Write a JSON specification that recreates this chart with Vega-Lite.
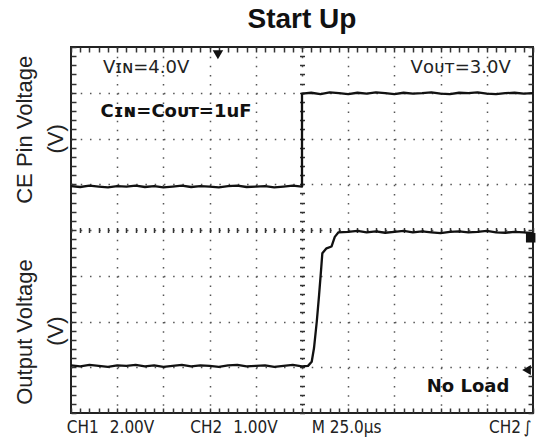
{
  "$schema": "https://vega.github.io/schema/vega-lite/v6.json",
  "width": 462,
  "height": 366,
  "autosize": {"type": "none"},
  "padding": {"left": 71, "top": 47, "right": 10, "bottom": 26},
  "background": "white",
  "title": {"text": "Start Up", "font": "Liberation Sans", "fontSize": 28, "fontWeight": "bold", "color": "#111", "anchor": "middle", "frame": "group", "offset": 12},
  "config": {"view": {"stroke": "#222", "strokeWidth": 2}},
  "datasets": {
    "traces": [
      {"ch":"CE","i":0,"t":0,"v":4.96},{"ch":"CE","i":1,"t":0.2,"v":4.94},{"ch":"CE","i":2,"t":0.4,"v":4.97},{"ch":"CE","i":3,"t":0.6,"v":4.95},{"ch":"CE","i":4,"t":0.8,"v":4.93},{"ch":"CE","i":5,"t":1.0,"v":4.96},{"ch":"CE","i":6,"t":1.2,"v":4.95},{"ch":"CE","i":7,"t":1.4,"v":4.97},{"ch":"CE","i":8,"t":1.6,"v":4.94},{"ch":"CE","i":9,"t":1.8,"v":4.96},{"ch":"CE","i":10,"t":2.0,"v":4.93},{"ch":"CE","i":11,"t":2.2,"v":4.95},{"ch":"CE","i":12,"t":2.4,"v":4.97},{"ch":"CE","i":13,"t":2.6,"v":4.94},{"ch":"CE","i":14,"t":2.8,"v":4.96},{"ch":"CE","i":15,"t":3.0,"v":4.95},{"ch":"CE","i":16,"t":3.2,"v":4.93},{"ch":"CE","i":17,"t":3.4,"v":4.96},{"ch":"CE","i":18,"t":3.6,"v":4.97},{"ch":"CE","i":19,"t":3.8,"v":4.94},{"ch":"CE","i":20,"t":4.0,"v":4.95},{"ch":"CE","i":21,"t":4.2,"v":4.96},{"ch":"CE","i":22,"t":4.4,"v":4.93},{"ch":"CE","i":23,"t":4.6,"v":4.95},{"ch":"CE","i":24,"t":4.8,"v":4.97},{"ch":"CE","i":25,"t":5.0,"v":4.95},
      {"ch":"CE","i":26,"t":5.0,"v":6.98},{"ch":"CE","i":27,"t":5.2,"v":7.0},{"ch":"CE","i":28,"t":5.4,"v":6.97},{"ch":"CE","i":29,"t":5.6,"v":7.01},{"ch":"CE","i":30,"t":5.8,"v":6.99},{"ch":"CE","i":31,"t":6.0,"v":6.97},{"ch":"CE","i":32,"t":6.2,"v":7.0},{"ch":"CE","i":33,"t":6.4,"v":6.98},{"ch":"CE","i":34,"t":6.6,"v":7.01},{"ch":"CE","i":35,"t":6.8,"v":6.99},{"ch":"CE","i":36,"t":7.0,"v":6.97},{"ch":"CE","i":37,"t":7.2,"v":7.0},{"ch":"CE","i":38,"t":7.4,"v":6.98},{"ch":"CE","i":39,"t":7.6,"v":6.99},{"ch":"CE","i":40,"t":7.8,"v":7.01},{"ch":"CE","i":41,"t":8.0,"v":6.98},{"ch":"CE","i":42,"t":8.2,"v":6.97},{"ch":"CE","i":43,"t":8.4,"v":7.0},{"ch":"CE","i":44,"t":8.6,"v":6.99},{"ch":"CE","i":45,"t":8.8,"v":7.01},{"ch":"CE","i":46,"t":9.0,"v":6.98},{"ch":"CE","i":47,"t":9.2,"v":6.97},{"ch":"CE","i":48,"t":9.4,"v":6.99},{"ch":"CE","i":49,"t":9.6,"v":7.0},{"ch":"CE","i":50,"t":9.8,"v":6.98},{"ch":"CE","i":51,"t":10.0,"v":6.99},
      {"ch":"OUT","i":0,"t":0,"v":1.04},{"ch":"OUT","i":1,"t":0.2,"v":1.02},{"ch":"OUT","i":2,"t":0.4,"v":1.05},{"ch":"OUT","i":3,"t":0.6,"v":1.03},{"ch":"OUT","i":4,"t":0.8,"v":1.01},{"ch":"OUT","i":5,"t":1.0,"v":1.04},{"ch":"OUT","i":6,"t":1.2,"v":1.03},{"ch":"OUT","i":7,"t":1.4,"v":1.05},{"ch":"OUT","i":8,"t":1.6,"v":1.02},{"ch":"OUT","i":9,"t":1.8,"v":1.04},{"ch":"OUT","i":10,"t":2.0,"v":1.01},{"ch":"OUT","i":11,"t":2.2,"v":1.03},{"ch":"OUT","i":12,"t":2.4,"v":1.05},{"ch":"OUT","i":13,"t":2.6,"v":1.02},{"ch":"OUT","i":14,"t":2.8,"v":1.04},{"ch":"OUT","i":15,"t":3.0,"v":1.03},{"ch":"OUT","i":16,"t":3.2,"v":1.01},{"ch":"OUT","i":17,"t":3.4,"v":1.04},{"ch":"OUT","i":18,"t":3.6,"v":1.05},{"ch":"OUT","i":19,"t":3.8,"v":1.02},{"ch":"OUT","i":20,"t":4.0,"v":1.03},{"ch":"OUT","i":21,"t":4.2,"v":1.04},{"ch":"OUT","i":22,"t":4.4,"v":1.01},{"ch":"OUT","i":23,"t":4.6,"v":1.03},{"ch":"OUT","i":24,"t":4.8,"v":1.05},{"ch":"OUT","i":25,"t":5.0,"v":1.02},
      {"ch":"OUT","i":26,"t":5.13,"v":1.03},{"ch":"OUT","i":27,"t":5.21,"v":1.12},{"ch":"OUT","i":28,"t":5.26,"v":1.42},{"ch":"OUT","i":29,"t":5.32,"v":2.0},{"ch":"OUT","i":30,"t":5.37,"v":2.58},{"ch":"OUT","i":31,"t":5.41,"v":3.09},{"ch":"OUT","i":32,"t":5.44,"v":3.49},{"ch":"OUT","i":33,"t":5.53,"v":3.6},{"ch":"OUT","i":34,"t":5.64,"v":3.64},{"ch":"OUT","i":35,"t":5.71,"v":3.85},{"ch":"OUT","i":36,"t":5.79,"v":3.95},
      {"ch":"OUT","i":37,"t":6.0,"v":3.96},{"ch":"OUT","i":38,"t":6.2,"v":3.98},{"ch":"OUT","i":39,"t":6.4,"v":3.95},{"ch":"OUT","i":40,"t":6.6,"v":3.97},{"ch":"OUT","i":41,"t":6.8,"v":3.94},{"ch":"OUT","i":42,"t":7.0,"v":3.96},{"ch":"OUT","i":43,"t":7.2,"v":3.98},{"ch":"OUT","i":44,"t":7.4,"v":3.95},{"ch":"OUT","i":45,"t":7.6,"v":3.97},{"ch":"OUT","i":46,"t":7.8,"v":3.95},{"ch":"OUT","i":47,"t":8.0,"v":3.93},{"ch":"OUT","i":48,"t":8.2,"v":3.96},{"ch":"OUT","i":49,"t":8.4,"v":3.97},{"ch":"OUT","i":50,"t":8.6,"v":3.95},{"ch":"OUT","i":51,"t":8.8,"v":3.96},{"ch":"OUT","i":52,"t":9.0,"v":3.98},{"ch":"OUT","i":53,"t":9.2,"v":3.95},{"ch":"OUT","i":54,"t":9.4,"v":3.94},{"ch":"OUT","i":55,"t":9.6,"v":3.96},{"ch":"OUT","i":56,"t":9.8,"v":3.95},{"ch":"OUT","i":57,"t":10.0,"v":3.93}
    ],
    "markers": [
      {"kind":"trig","t":3.18,"v":7.83},
      {"kind":"gnd","t":9.86,"v":0.94},
      {"kind":"lvl","t":9.95,"v":3.83}
    ],
    "notes": [
      {"label":"Vɪɴ=4.0V","t":0.69,"v":7.54},
      {"label":"Vᴏᴜᴛ=3.0V","t":7.35,"v":7.55}
    ],
    "boldnotes": [
      {"label":"Cɪɴ=Cᴏᴜᴛ=1uF","t":0.64,"v":6.59},
      {"label":"No Load","t":7.7,"v":0.575}
    ],
    "ytitles": [
      {"label":"CE Pin Voltage","t":-1.0,"v":6.19},
      {"label":"(V)","t":-0.32,"v":5.99},
      {"label":"Output Voltage","t":-1.0,"v":1.77},
      {"label":"(V)","t":-0.32,"v":1.79}
    ],
    "status": [
      {"label":"CH1","t":-0.09,"v":-0.33},
      {"label":"2.00V","t":0.84,"v":-0.33},
      {"label":"CH2","t":2.58,"v":-0.33},
      {"label":"1.00V","t":3.51,"v":-0.33},
      {"label":"M 25.0µs","t":5.21,"v":-0.33},
      {"label":"CH2","t":9.05,"v":-0.33},
      {"label":"∫","t":9.8,"v":-0.33}
    ]
  },
  "resolve": {"scale": {"x": "shared", "y": "shared"}, "axis": {"x": "independent", "y": "independent"}},
  "layer": [
    {
      "data": {"name": "notes"},
      "mark": {"type": "text", "font": "DejaVu Sans", "fontSize": 18, "align": "left", "baseline": "middle", "color": "#222"},
      "encoding": {
        "x": {"field": "t", "type": "quantitative", "scale": {"domain": [0, 10], "nice": false, "zero": false},
              "axis": {"orient": "bottom", "values": [1,2,3,4,5,6,7,8,9], "grid": true, "gridDash": [1.5, 7.65], "gridColor": "#555", "gridWidth": 1.5, "ticks": false, "labels": false, "domain": false, "title": null}},
        "y": {"field": "v", "type": "quantitative", "scale": {"domain": [0, 8], "nice": false, "zero": false},
              "axis": {"orient": "left", "values": [1,2,3,4,5,6,7], "grid": true, "gridDash": [1.5, 7.74], "gridColor": "#555", "gridWidth": 1.5, "ticks": false, "labels": false, "domain": false, "title": null}},
        "text": {"field": "label"}
      }
    },
    {
      "data": {"name": "boldnotes"},
      "mark": {"type": "text", "font": "DejaVu Sans", "fontSize": 18, "fontWeight": "bold", "align": "left", "baseline": "middle", "color": "#111"},
      "encoding": {
        "x": {"field": "t", "type": "quantitative", "scale": {"domain": [0, 10], "nice": false, "zero": false},
              "axis": {"orient": "bottom", "offset": -185.5, "values": [0,0.2,0.4,0.6,0.8,1,1.2,1.4,1.6,1.8,2,2.2,2.4,2.6,2.8,3,3.2,3.4,3.6,3.8,4,4.2,4.4,4.6,4.8,5,5.2,5.4,5.6,5.8,6,6.2,6.4,6.6,6.8,7,7.2,7.4,7.6,7.8,8,8.2,8.4,8.6,8.8,9,9.2,9.4,9.6,9.8,10], "tickSize": 5, "tickColor": "#333", "tickWidth": 1.5, "labels": false, "domain": false, "grid": false, "title": null}},
        "y": {"field": "v", "type": "quantitative", "scale": {"domain": [0, 8], "nice": false, "zero": false},
              "axis": {"orient": "left", "offset": -233.5, "values": [0,0.2,0.4,0.6,0.8,1,1.2,1.4,1.6,1.8,2,2.2,2.4,2.6,2.8,3,3.2,3.4,3.6,3.8,4,4.2,4.4,4.6,4.8,5,5.2,5.4,5.6,5.8,6,6.2,6.4,6.6,6.8,7,7.2,7.4,7.6,7.8,8], "tickSize": 5, "tickColor": "#333", "tickWidth": 1.5, "labels": false, "domain": false, "grid": false, "title": null}},
        "text": {"field": "label"}
      }
    },
    {
      "data": {"name": "traces"},
      "mark": {"type": "line", "color": "#111", "strokeWidth": 2.3, "strokeJoin": "round"},
      "encoding": {
        "x": {"field": "t", "type": "quantitative", "scale": {"domain": [0, 10], "nice": false, "zero": false},
              "axis": {"orient": "bottom", "offset": -5, "values": [0,0.2,0.4,0.6,0.8,1,1.2,1.4,1.6,1.8,2,2.2,2.4,2.6,2.8,3,3.2,3.4,3.6,3.8,4,4.2,4.4,4.6,4.8,5,5.2,5.4,5.6,5.8,6,6.2,6.4,6.6,6.8,7,7.2,7.4,7.6,7.8,8,8.2,8.4,8.6,8.8,9,9.2,9.4,9.6,9.8,10], "tickSize": 5, "tickColor": "#333", "tickWidth": 1.5, "labels": false, "domain": false, "grid": false, "title": null}},
        "y": {"field": "v", "type": "quantitative", "scale": {"domain": [0, 8], "nice": false, "zero": false},
              "axis": {"orient": "left", "offset": -5, "values": [0,0.2,0.4,0.6,0.8,1,1.2,1.4,1.6,1.8,2,2.2,2.4,2.6,2.8,3,3.2,3.4,3.6,3.8,4,4.2,4.4,4.6,4.8,5,5.2,5.4,5.6,5.8,6,6.2,6.4,6.6,6.8,7,7.2,7.4,7.6,7.8,8], "tickSize": 5, "tickColor": "#333", "tickWidth": 1.5, "labels": false, "domain": false, "grid": false, "title": null}},
        "detail": {"field": "ch", "type": "nominal"},
        "order": {"field": "i", "type": "quantitative"}
      }
    },
    {
      "data": {"name": "markers"},
      "mark": {"type": "point", "filled": true, "color": "#111", "opacity": 1},
      "encoding": {
        "x": {"field": "t", "type": "quantitative", "scale": {"domain": [0, 10], "nice": false, "zero": false},
              "axis": {"orient": "top", "offset": -5, "values": [0,0.2,0.4,0.6,0.8,1,1.2,1.4,1.6,1.8,2,2.2,2.4,2.6,2.8,3,3.2,3.4,3.6,3.8,4,4.2,4.4,4.6,4.8,5,5.2,5.4,5.6,5.8,6,6.2,6.4,6.6,6.8,7,7.2,7.4,7.6,7.8,8,8.2,8.4,8.6,8.8,9,9.2,9.4,9.6,9.8,10], "tickSize": 5, "tickColor": "#333", "tickWidth": 1.5, "labels": false, "domain": false, "grid": false, "title": null}},
        "y": {"field": "v", "type": "quantitative", "scale": {"domain": [0, 8], "nice": false, "zero": false},
              "axis": {"orient": "right", "offset": -5, "values": [0,0.2,0.4,0.6,0.8,1,1.2,1.4,1.6,1.8,2,2.2,2.4,2.6,2.8,3,3.2,3.4,3.6,3.8,4,4.2,4.4,4.6,4.8,5,5.2,5.4,5.6,5.8,6,6.2,6.4,6.6,6.8,7,7.2,7.4,7.6,7.8,8], "tickSize": 5, "tickColor": "#333", "tickWidth": 1.5, "labels": false, "domain": false, "grid": false, "title": null}},
        "shape": {"field": "kind", "type": "nominal", "scale": {"domain": ["trig", "gnd", "lvl"], "range": ["triangle-down", "triangle-left", "square"]}, "legend": null},
        "size": {"field": "kind", "type": "nominal", "scale": {"domain": ["trig", "gnd", "lvl"], "range": [110, 90, 25]}, "legend": null}
      }
    },
    {
      "data": {"name": "ytitles"},
      "mark": {"type": "text", "font": "Liberation Sans", "fontSize": 22, "angle": 270, "align": "center", "baseline": "middle", "color": "#222"},
      "encoding": {
        "x": {"field": "t", "type": "quantitative", "scale": {"domain": [0, 10], "nice": false, "zero": false}, "axis": null},
        "y": {"field": "v", "type": "quantitative", "scale": {"domain": [0, 8], "nice": false, "zero": false}, "axis": null},
        "text": {"field": "label"}
      }
    },
    {
      "data": {"name": "status"},
      "mark": {"type": "text", "font": "DejaVu Sans Condensed, Liberation Sans, sans-serif", "fontSize": 17, "align": "left", "baseline": "middle", "color": "#222"},
      "encoding": {
        "x": {"field": "t", "type": "quantitative", "scale": {"domain": [0, 10], "nice": false, "zero": false}, "axis": null},
        "y": {"field": "v", "type": "quantitative", "scale": {"domain": [0, 8], "nice": false, "zero": false}, "axis": null},
        "text": {"field": "label"}
      }
    }
  ]
}
